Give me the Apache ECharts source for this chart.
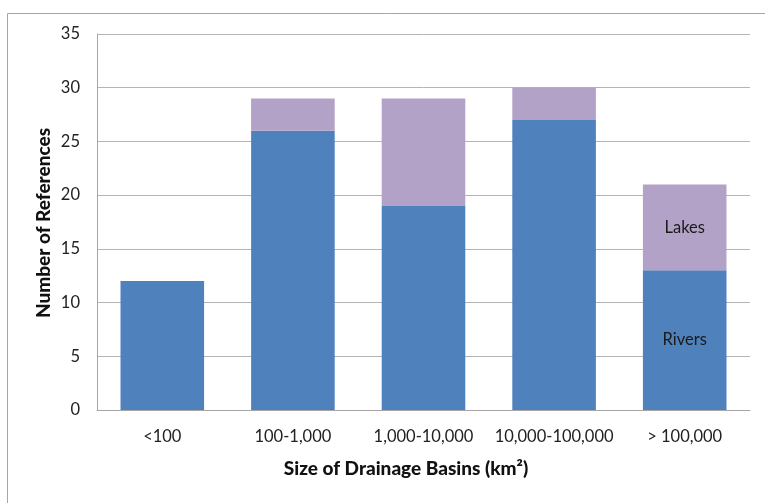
<!DOCTYPE html>
<html>
<head>
<meta charset="utf-8">
<script src="https://cdn.jsdelivr.net/npm/echarts@6/dist/echarts.min.js"></script>
<style>
  html, body { margin: 0; padding: 0; background: #fff; }
  #chart { width: 765px; height: 503px; }
</style>
</head>
<body>
<div id="chart"></div>
<script>
// Basin size classes (km²)
const categories = ['<100', '100-1,000', '1,000-10,000', '10,000-100,000', '> 100,000'];
// Number of references per class
const rivers = [12, 26, 19, 27, 13];
const lakes = [0, 3, 10, 3, 8];
const yTicks = [0, 5, 10, 15, 20, 25, 30, 35];

const FONT = 'Lato, "Open Sans", sans-serif';
const lastIdx = categories.length - 1;

function labelled(values, name) {
  return values.map((v, i) => ({
    value: v,
    label: { show: i === lastIdx, formatter: name }
  }));
}

const chart = echarts.init(document.getElementById('chart'), null, { renderer: 'canvas' });
chart.setOption({
  animation: false,
  backgroundColor: '#ffffff',
  grid: { left: 97, right: 15, top: 34, bottom: 93, containLabel: false },
  xAxis: {
    type: 'category',
    data: categories,
    axisLine: { lineStyle: { color: '#a6a6a6', width: 1 } },
    axisTick: { show: false },
    axisLabel: { color: '#222', fontFamily: FONT, fontSize: 16.5, margin: 18, interval: 0 }
  },
  yAxis: {
    type: 'value',
    min: yTicks[0],
    max: yTicks[yTicks.length - 1],
    interval: 5,
    axisLine: { show: true, lineStyle: { color: '#a6a6a6' } },
    axisTick: { show: false },
    splitLine: { lineStyle: { color: '#b4b4b4', width: 1 } },
    axisLabel: { color: '#222', fontFamily: FONT, fontSize: 16.5, margin: 17 }
  },
  series: [
    {
      name: 'Rivers',
      type: 'bar',
      stack: 'total',
      barWidth: '64%',
      data: labelled(rivers, 'Rivers'),
      itemStyle: { color: '#4f81bd' },
      label: { position: 'inside', color: '#1a1a1a', fontFamily: FONT, fontSize: 16.5 }
    },
    {
      name: 'Lakes',
      type: 'bar',
      stack: 'total',
      barWidth: '64%',
      data: labelled(lakes, 'Lakes'),
      itemStyle: { color: '#b3a2c7' },
      label: { position: 'inside', color: '#1a1a1a', fontFamily: FONT, fontSize: 16.5 }
    }
  ],
  graphic: [
    {
      type: 'rect',
      shape: { x: 7.5, y: 13.5, width: 800, height: 600 },
      style: { fill: 'none', stroke: '#a6a6a6', lineWidth: 1 },
      silent: true,
      z: -1
    },
    {
      type: 'text',
      x: 44, y: 223,
      rotation: Math.PI / 2,
      style: {
        text: 'Number of References',
        fill: '#111', fontFamily: FONT, fontWeight: 900, fontSize: 19,
        align: 'center', verticalAlign: 'middle'
      }
    },
    {
      type: 'text',
      x: 406, y: 469,
      style: {
        text: 'Size of Drainage Basins (km²)',
        fill: '#111', fontFamily: FONT, fontWeight: 900, fontSize: 19,
        align: 'center', verticalAlign: 'middle'
      }
    }
  ]
});
</script>
</body>
</html>
